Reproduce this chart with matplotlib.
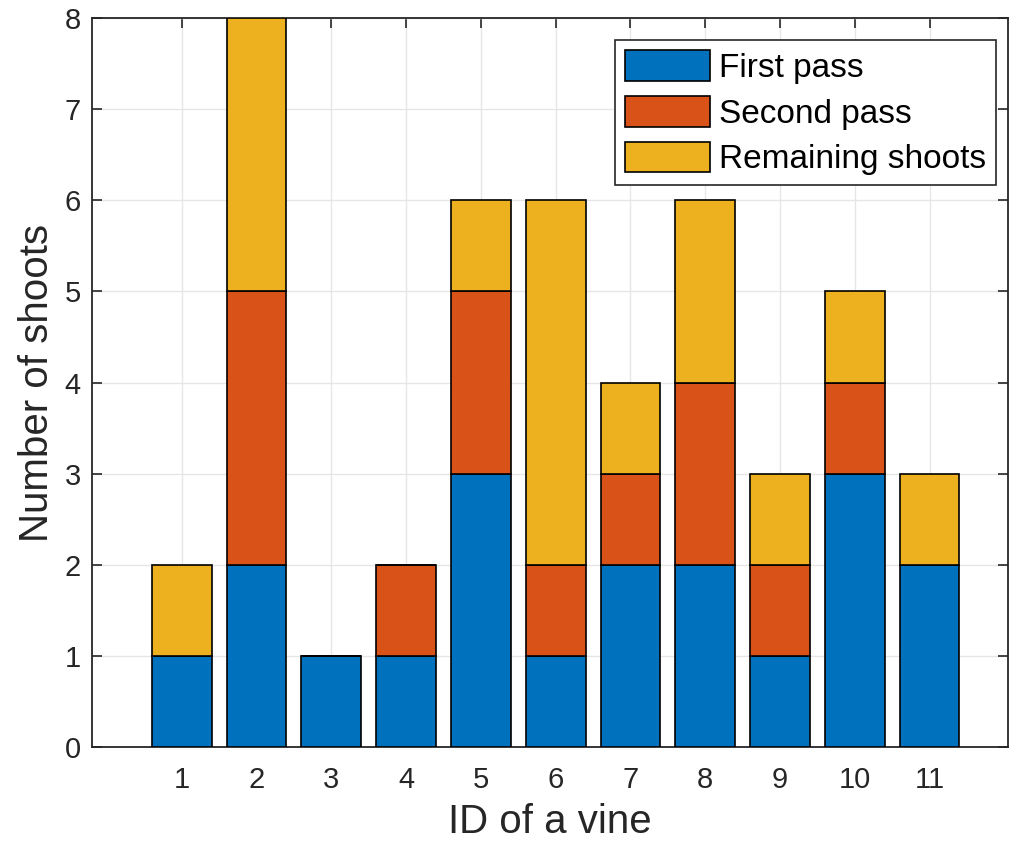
import matplotlib.pyplot as plt
import numpy as np

plt.rcParams['font.family'] = ['Liberation Sans', 'DejaVu Sans']

vines = np.arange(1, 12)
first_pass = [1, 2, 1, 1, 3, 1, 2, 2, 1, 3, 2]
second_pass = [0, 3, 0, 1, 2, 1, 1, 2, 1, 1, 0]
remaining = [1, 3, 0, 0, 1, 4, 1, 2, 1, 1, 1]
labels = ["First pass", "Second pass", "Remaining shoots"]
colors = ["#0072BD", "#D95319", "#EDB120"]

fig = plt.figure(figsize=(10.1, 8.42), dpi=100)
ax = fig.add_axes([0.0911, 0.1128, 0.907, 0.8658])

bottom = np.zeros(len(vines))
for vals, lab, col in zip([first_pass, second_pass, remaining], labels, colors):
    ax.bar(vines, vals, bottom=bottom, width=0.8, color=col, edgecolor="black",
           linewidth=1.2, label=lab, zorder=3)
    bottom += np.array(vals)

ax.set_xlim(-0.2, 12.05)
ax.set_ylim(0, 8)
ax.set_xticks(vines)
ax.set_yticks(range(0, 9))
ax.grid(True, color="#e6e6e6", linewidth=1.0, zorder=0)
ax.set_axisbelow(True)

ax.tick_params(direction="in", length=7, width=1.2, colors="#262626",
               labelsize=21, top=True, right=True, pad=14)
ax.tick_params(axis="y", pad=8)
for s in ax.spines.values():
    s.set_color("#262626")
    s.set_linewidth(1.3)

ax.set_xlabel("ID of a vine", fontsize=29, color="#262626", labelpad=6)
ax.set_ylabel("Number of shoots", fontsize=29, color="#262626", labelpad=6)

leg = ax.legend(loc="upper right", bbox_to_anchor=(0.987, 0.970), fontsize=24,
                fancybox=False, edgecolor="#262626", framealpha=1,
                handlelength=2.55, handleheight=1.05, handletextpad=0.27,
                labelspacing=0.36, borderpad=0.3, borderaxespad=0)
leg.get_frame().set_linewidth(1.2)

fig.savefig("out.png", dpi=100)
